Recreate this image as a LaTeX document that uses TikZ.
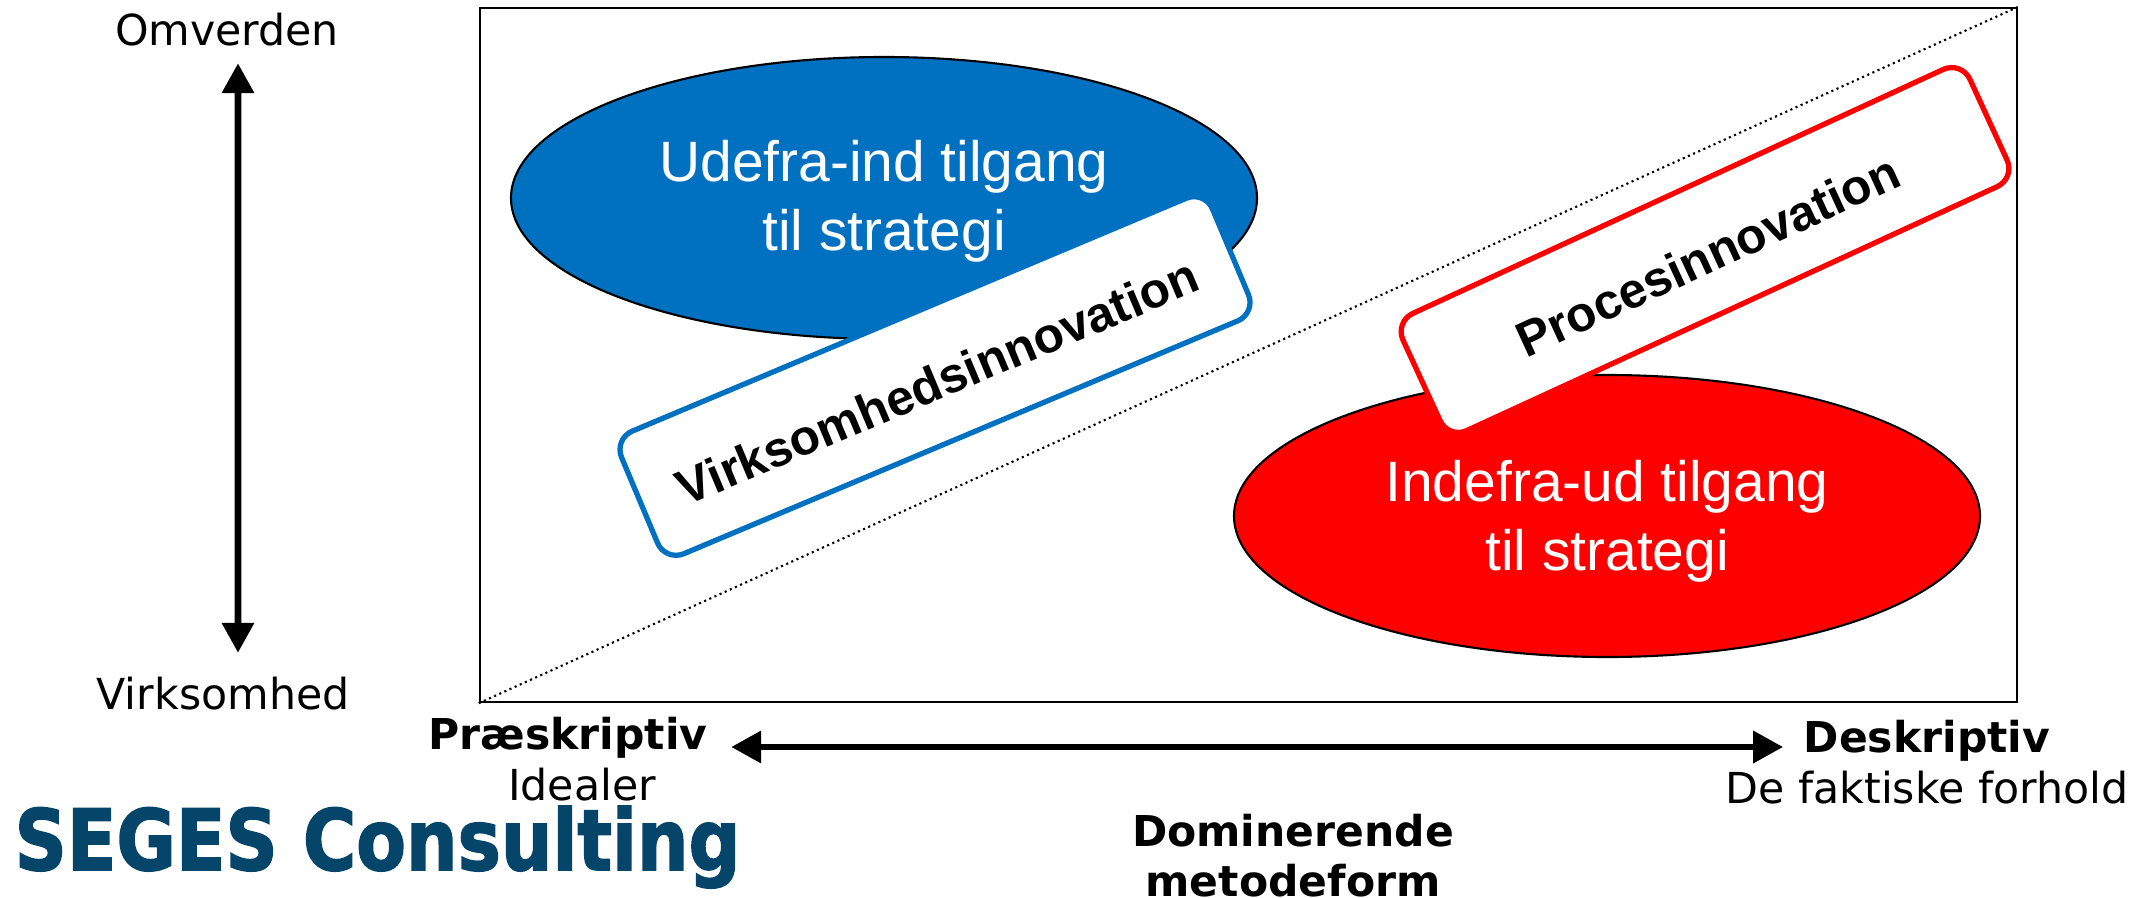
\documentclass[tikz,border=0pt]{standalone}
\usepackage{fontspec}
\setmainfont{DejaVu Sans}
\newfontfamily\arialfont{Liberation Sans}
\newfontfamily\logofont[FakeBold=2]{DejaVu Sans Bold}
\usetikzlibrary{calc,shapes.geometric,arrows.meta}
\definecolor{segesblue}{HTML}{0070C0}
\definecolor{segesdark}{HTML}{05456A}
\tikzset{
    axislabel/.style={font=\fontsize{12.15}{14.2}\selectfont, inner sep=0pt, align=center},
    axisbold/.style={axislabel, font=\bfseries\fontsize{12.1}{14.2}\selectfont},
    axisarrow/.style={{Triangle[length=3mm,width=3.1mm]}-{Triangle[length=3mm,width=3.1mm]}, line width=1.9pt},
    blob/.style={ellipse, draw=black, line width=0.6pt, inner sep=0pt,
        minimum width=7.46cm, minimum height=2.82cm},
    blobtext/.style={text=white, inner sep=0pt, align=center, font=\arialfont\fontsize{16.2}{19.6}\selectfont},
    tagbox/.style={rectangle, rounded corners=2mm, fill=white, line width=1.5pt, inner sep=0pt,
        text height=13.5pt, text depth=0pt, font=\arialfont\bfseries\fontsize{14.1}{17}\selectfont}
}

\begin{document}
\begin{tikzpicture}
    \useasboundingbox (0,0) rectangle (21.46,8.97);
    \node[draw, line width=0.7pt, minimum width=15.37cm, minimum height=6.94cm, inner sep=0pt] (frame) at (12.485,5.42) {};
    \draw[densely dotted, line width=0.6pt] (frame.south west) -- (frame.north east);

    \node[blob, fill=segesblue] (outside) at (8.84,6.99) {};
    \node[blobtext] (outsidetext) at ($(outside)+(0,-0.03)$) {Udefra-ind tilgang\\til strategi};
    \node[blob, fill=red] (inside) at (16.07,3.81) {};
    \node[blobtext] (insidetext) at ($(inside)+(0,-0.05)$) {Indefra-ud tilgang\\til strategi};
    \node[tagbox, draw=segesblue, rotate=22.8, minimum width=6.41cm, minimum height=1.33cm] (business) at (9.35,5.21) {Virksomhedsinnovation};
    \node[tagbox, draw=red, rotate=24.7, minimum width=6.24cm, minimum height=1.29cm] (process) at (17.05,6.47) {Procesinnovation};

    \node[axislabel] (omverden) at (2.27,8.67) {Omverden};
    \node[axislabel] (virksomhed) at (2.23,2.03) {Virksomhed};
    \draw[axisarrow] ($(omverden.south)+(0.11,-0.16)$) -- ($(virksomhed.north)+(0.15,0.24)$);

    \node[axisbold] (praeskriptiv) at (5.68,1.59) {Præskriptiv};
    \node[axislabel] (idealer) at (5.82,1.12) {Idealer};
    \node[axisbold] (deskriptiv) at (19.27,1.56) {Deskriptiv};
    \node[axislabel] (forhold) at (19.27,1.09) {De faktiske forhold};
    \draw[axisarrow] ($(praeskriptiv.east)+(0.23,-0.09)$) -- ($(deskriptiv.west)+(-0.2,-0.06)$);

    \node[axisbold] (metode) at (12.93,0.41) {Dominerende\\metodeform};
    \node[anchor=base west, inner sep=0pt, text=segesdark, xscale=0.86, transform shape,
        font=\logofont\fontsize{24}{30}\selectfont] (logo) at (0.14,0.27) {SEGES Consulting};
\end{tikzpicture}
\end{document}
